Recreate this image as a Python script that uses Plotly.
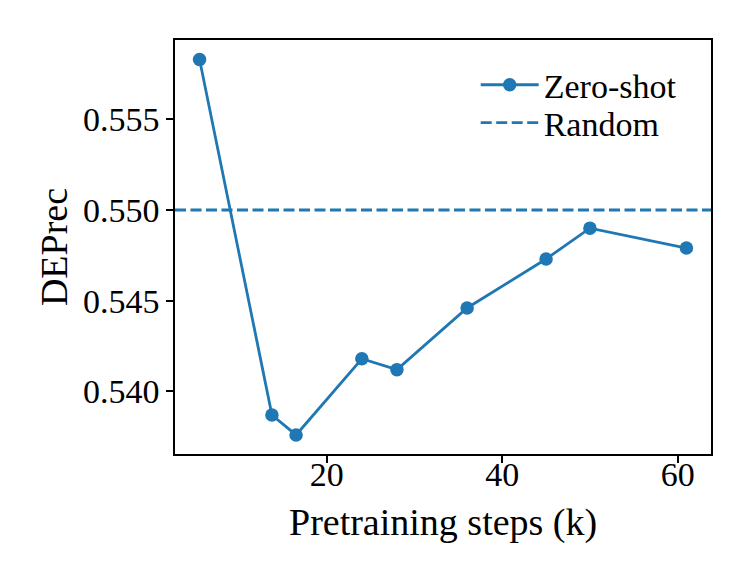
import plotly.graph_objects as go

steps_k = [5.5, 13.75, 16.5, 24, 28, 36, 45, 50, 61]
zero_shot = [0.5583, 0.5387, 0.5376, 0.5418, 0.5412, 0.5446, 0.5473, 0.5490, 0.5479]
random_baseline = 0.550

blue = '#1f77b4'
serif = 'Liberation Serif, Times New Roman, serif'
tick_font = dict(family=serif, size=34, color='black')
title_font = dict(family=serif, size=38, color='black')

fig = go.Figure()
fig.add_trace(go.Scatter(
    x=steps_k, y=zero_shot, mode='lines+markers', name='Zero-shot',
    line=dict(color=blue, width=2.8),
    marker=dict(color=blue, size=13.5),
    showlegend=True, legend='legend',
))
fig.add_hline(
    y=random_baseline, line=dict(color=blue, width=2.8, dash='11px,4.5px'),
    showlegend=True, name='Random', layer='below', legend='legend2',
)

axis_common = dict(
    showline=True, mirror=True, linecolor='black', linewidth=1.5,
    ticks='outside', ticklen=7, tickwidth=1.5, tickcolor='black',
    showgrid=False, zeroline=False, tickfont=tick_font,
)
fig.update_xaxes(range=[2.7, 63.8], tickvals=[20, 40, 60],
                 ticklabelstandoff=-18, **axis_common)
fig.update_yaxes(
    range=[0.53655, 0.55937], tickvals=[0.540, 0.545, 0.550, 0.555],
    tickformat='.3f',
    title=dict(text='DEPrec', font=title_font, standoff=4),
    **axis_common,
)
# x title as an annotation so it can sit closer to the tick labels
fig.add_annotation(
    text='Pretraining steps (k)', font=title_font, showarrow=False,
    x=0.5, y=0, xref='paper', yref='paper', yanchor='middle', yshift=-68,
)
legend_common = dict(xanchor='left', yanchor='middle', bgcolor='rgba(0,0,0,0)',
                     font=tick_font, itemwidth=58)
# the page body has an 8px margin, so the figure is sized to fit inside it
fig.update_layout(
    width=745, height=578,
    margin=dict(l=167, r=41.5, t=32, b=132),
    plot_bgcolor='white', paper_bgcolor='white',
    font=tick_font,
    legend=dict(x=0.561, y=0.891, **legend_common),
    legend2=dict(x=0.561, y=0.7995, **legend_common),
)
fig.write_html('out.html')
